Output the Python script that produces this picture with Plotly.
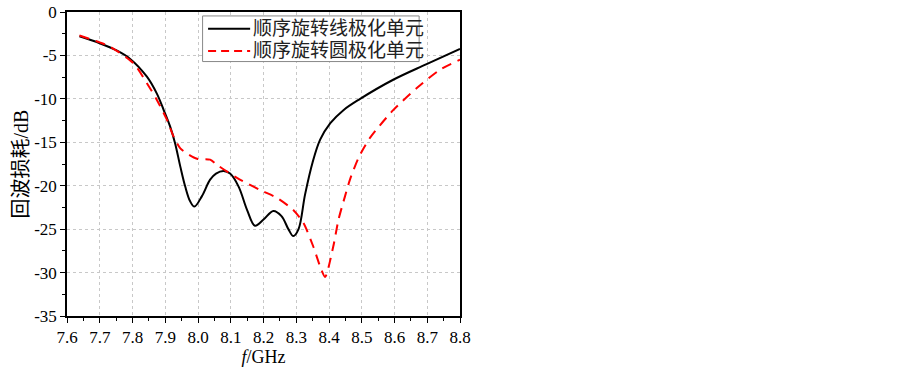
import plotly.graph_objects as go

# Data
freq_linear = [7.638, 7.70, 7.75, 7.793, 7.844, 7.874, 7.895, 7.915, 7.930, 7.946, 7.961,
               7.976, 7.989, 8.012, 8.037, 8.055, 8.078, 8.098, 8.124, 8.150, 8.174,
               8.200, 8.230, 8.255, 8.276, 8.291, 8.307, 8.327, 8.350, 8.373, 8.404,
               8.444, 8.495, 8.596, 8.698, 8.8]
rl_linear = [-2.8, -3.6, -4.4, -5.4, -7.45, -9.37, -11.26, -13.2, -15.1, -17.8, -20.1,
             -21.8, -22.4, -21.2, -19.3, -18.6, -18.3, -18.6, -20.1, -22.8, -24.6,
             -23.9, -22.9, -23.5, -25.0, -25.8, -25.0, -21.0, -17.3, -14.7, -12.8,
             -11.3, -10.0, -7.8, -6.0, -4.25]

freq_circular = [7.638, 7.70, 7.73, 7.803, 7.844, 7.874, 7.905, 7.925, 7.946, 7.971,
                 7.997, 8.037, 8.058, 8.119, 8.19, 8.241, 8.291, 8.322, 8.352, 8.373,
                 8.388, 8.413, 8.429, 8.449, 8.464, 8.49, 8.525, 8.596, 8.668, 8.739, 8.8]
rl_circular = [-2.7, -3.5, -3.96, -5.9, -8.2, -10.1, -12.4, -14.3, -15.7, -16.4,
               -16.9, -17.0, -17.6, -19.1, -20.5, -21.4, -22.8, -24.3, -27.0, -29.3,
               -30.5, -27.0, -23.9, -21.2, -19.3, -16.8, -14.5, -11.3, -8.76, -6.65, -5.5]

series_names = ["顺序旋转线极化单元", "顺序旋转圆极化单元"]
series_colors = ["black", "#ff0000"]

x_ticks = [7.6, 7.7, 7.8, 7.9, 8.0, 8.1, 8.2, 8.3, 8.4, 8.5, 8.6, 8.7, 8.8]
x_ticktext = ["7.6", "7.7", "7.8", "7.9", "8.0", "8.1", "8.2", "8.3", "8.4", "8.5", "8.6", "8.7", "8.8"]
y_ticks = [0, -5, -10, -15, -20, -25, -30, -35]
y_ticktext = ["0", "-5", "-10", "-15", "-20", "-25", "-30", "-35"]

x_title = "<i>f</i>/GHz"
y_title = "回波损耗/dB"

serif = "'Liberation Serif', 'Times New Roman', serif"
cjk = "'Liberation Serif', 'Noto Sans CJK SC', sans-serif"

fig = go.Figure()
fig.add_trace(go.Scatter(
    x=freq_linear, y=rl_linear, mode="lines", name=series_names[0], showlegend=False,
    line=dict(color=series_colors[0], width=2, shape="spline", smoothing=1.0),
))
fig.add_trace(go.Scatter(
    x=freq_circular, y=rl_circular, mode="lines", name=series_names[1], showlegend=False,
    line=dict(color=series_colors[1], width=2, dash="10px,7px", shape="spline", smoothing=0.7),
))

# Legend drawn in paper coordinates (box, samples, labels)
legend_box = dict(x0=0.345, x1=0.896, y0=0.837, y1=0.987)
legend_rows_y = [0.945, 0.872]
sample_x = (0.359, 0.466)
sample_dash = ["solid", "8px,5px"]
fig.add_shape(type="rect", xref="paper", yref="paper", **legend_box,
              line=dict(color="#888888", width=1), fillcolor="white", layer="above")
for name, color, dash, yy in zip(series_names, series_colors, sample_dash, legend_rows_y):
    fig.add_shape(type="line", xref="paper", yref="paper",
                  x0=sample_x[0], x1=sample_x[1], y0=yy, y1=yy,
                  line=dict(color=color, width=2, dash=dash), layer="above")
    fig.add_annotation(xref="paper", yref="paper", x=sample_x[1] + 0.002, y=yy,
                       xanchor="left", yanchor="middle", showarrow=False,
                       text=name, font=dict(family=cjk, size=19, color="#222222"))

fig.update_layout(
    width=903, height=367,
    margin=dict(l=67, r=443, t=12, b=51, autoexpand=False),
    paper_bgcolor="white", plot_bgcolor="white",
    font=dict(family=serif, size=16, color="black"),
    showlegend=False,
    xaxis=dict(
        range=[7.6, 8.8], tickvals=x_ticks, ticktext=x_ticktext, automargin=False,
        showline=True, linecolor="black", linewidth=1.5, mirror=True,
        ticks="outside", ticklen=5, tickwidth=1, tickcolor="black",
        minor=dict(dtick=0.05, tick0=7.6, ticks="outside", ticklen=3, tickcolor="black", showgrid=False),
        showgrid=True, gridcolor="#c8c8c8", griddash="dot", gridwidth=1,
        zeroline=False,
        title=dict(text=x_title, font=dict(family=serif, size=18), standoff=0),
        tickfont=dict(family=serif, size=17),
    ),
    yaxis=dict(
        range=[-35, 0], tickvals=y_ticks, ticktext=y_ticktext, automargin=False,
        showline=True, linecolor="black", linewidth=1.5, mirror=True,
        ticks="outside", ticklen=5, tickwidth=1, tickcolor="black",
        minor=dict(dtick=2.5, tick0=0, ticks="outside", ticklen=3, tickcolor="black", showgrid=False),
        showgrid=True, gridcolor="#c8c8c8", griddash="dot", gridwidth=1,
        zeroline=False,
        title=dict(text=y_title, font=dict(family=cjk, size=20), standoff=0),
        tickfont=dict(family=serif, size=17),
    ),
)

fig.write_html("out.html", config={"displayModeBar": False},
               post_script="document.body.style.margin='0';document.body.style.overflow='hidden';")
